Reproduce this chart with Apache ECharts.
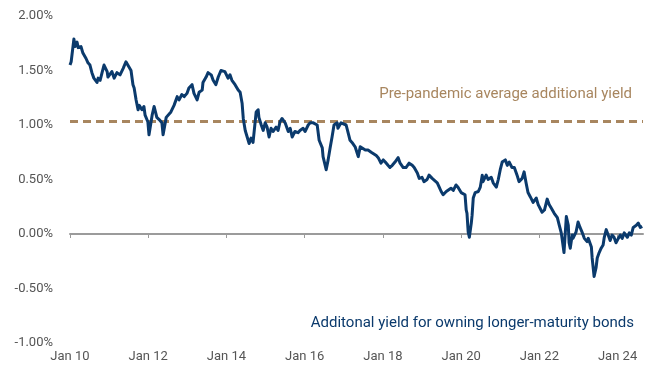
<!DOCTYPE html>
<html><head><meta charset="utf-8">
<script src="https://cdn.jsdelivr.net/npm/echarts@6/dist/echarts.min.js"></script>
<style>html,body{margin:0;padding:0;background:#fff}#c{width:650px;height:369px}</style>
</head><body><div id="c"></div>
<script>
// Decimal year of each observation
const years = [
2010.00,2010.03,2010.10,2010.13,2010.18,2010.21,2010.28,2010.33,2010.41,2010.46,2010.51,2010.56,2010.61,2010.69,2010.72,2010.77,2010.82,2010.87,2010.95,2010.97,
2011.07,2011.13,2011.20,2011.28,2011.36,2011.43,2011.48,2011.56,2011.61,2011.64,2011.69,2011.74,2011.77,2011.84,2011.89,2011.92,2011.99,
2012.02,2012.10,2012.15,2012.22,2012.28,2012.35,2012.38,2012.46,2012.51,2012.58,2012.66,2012.74,2012.79,2012.86,2012.92,2012.99,
2013.04,2013.12,2013.17,2013.25,2013.30,2013.38,2013.40,2013.48,2013.53,2013.61,2013.66,2013.73,2013.79,2013.86,2013.91,2013.96,
2014.04,2014.09,2014.14,2014.22,2014.30,2014.35,2014.40,2014.43,2014.48,2014.53,2014.58,2014.63,2014.68,2014.76,2014.81,2014.83,2014.89,2014.94,2014.99,
2015.04,2015.09,2015.14,2015.19,2015.27,2015.32,2015.37,2015.42,2015.50,2015.58,2015.63,2015.68,2015.75,2015.83,2015.88,2015.96,
2016.01,2016.09,2016.14,2016.22,2016.32,2016.37,2016.45,2016.47,2016.55,2016.60,2016.65,2016.70,2016.75,2016.83,2016.85,2016.93,2016.98,
2017.06,2017.11,2017.16,2017.21,2017.29,2017.37,2017.42,2017.47,2017.55,2017.62,2017.70,2017.75,2017.83,2017.88,2017.95,
2018.01,2018.06,2018.13,2018.18,2018.24,2018.31,2018.39,2018.44,2018.52,2018.59,2018.67,2018.75,2018.80,2018.88,2018.93,
2019.00,2019.05,2019.13,2019.18,2019.26,2019.31,2019.39,2019.44,2019.49,2019.54,2019.62,2019.67,2019.74,2019.80,2019.87,2019.92,
2020.00,2020.05,2020.10,2020.13,2020.15,2020.18,2020.21,2020.26,2020.28,2020.31,2020.36,2020.44,2020.49,2020.54,2020.56,2020.64,2020.69,2020.77,2020.82,2020.90,2020.95,
2021.00,2021.05,2021.13,2021.18,2021.23,2021.30,2021.36,2021.43,2021.48,2021.56,2021.61,2021.66,2021.71,2021.77,2021.82,2021.84,2021.92,2021.97,
2022.02,2022.07,2022.13,2022.20,2022.25,2022.30,2022.38,2022.46,2022.51,2022.56,2022.58,2022.63,2022.69,2022.74,2022.76,2022.79,2022.84,2022.86,2022.94,2022.99,
2023.04,2023.10,2023.15,2023.22,2023.25,2023.33,2023.35,2023.40,2023.45,2023.48,2023.53,2023.58,2023.63,2023.66,2023.71,2023.76,2023.81,2023.86,2023.91,2023.96,
2024.02,2024.07,2024.12,2024.17,2024.25,2024.30,2024.35,2024.40,2024.48,2024.53,2024.58,2024.63
];
// Additional yield (%)
const extraYield = [
1.55,1.58,1.79,1.72,1.76,1.71,1.72,1.66,1.61,1.57,1.55,1.48,1.43,1.39,1.43,1.41,1.48,1.55,1.49,1.44,
1.49,1.43,1.48,1.46,1.52,1.58,1.57,1.50,1.37,1.34,1.23,1.14,1.18,1.14,1.17,1.09,1.03,
0.91,1.09,1.17,1.07,1.05,1.02,0.91,1.07,1.07,1.12,1.18,1.26,1.23,1.28,1.26,1.29,
1.34,1.37,1.29,1.23,1.30,1.32,1.39,1.44,1.48,1.46,1.41,1.37,1.44,1.50,1.49,1.49,
1.43,1.46,1.41,1.37,1.32,1.30,1.20,1.06,0.95,0.89,0.83,0.88,0.84,1.12,1.14,1.07,1.00,0.95,1.02,
0.98,0.89,0.97,0.94,0.98,0.95,1.03,1.06,1.02,0.94,0.97,0.89,0.94,0.93,0.95,0.97,
0.94,1.00,1.02,1.02,1.00,0.86,0.79,0.71,0.59,0.68,0.79,0.89,1.00,1.02,0.97,1.02,1.03,
1.00,0.93,0.86,0.84,0.80,0.71,0.80,0.79,0.77,0.77,0.75,0.75,0.72,0.70,0.65,
0.68,0.66,0.63,0.61,0.63,0.66,0.70,0.65,0.61,0.61,0.65,0.63,0.61,0.56,0.51,
0.52,0.48,0.50,0.54,0.51,0.50,0.47,0.43,0.39,0.36,0.39,0.40,0.42,0.40,0.45,0.43,
0.38,0.38,0.36,0.22,0.19,0.02,-0.03,0.10,0.17,0.33,0.38,0.39,0.43,0.54,0.48,0.54,0.50,0.52,0.47,0.43,0.50,
0.59,0.66,0.68,0.63,0.66,0.61,0.61,0.54,0.48,0.51,0.57,0.47,0.38,0.34,0.33,0.29,0.33,0.27,
0.28,0.20,0.22,0.32,0.27,0.24,0.19,0.15,0.08,0.01,-0.04,-0.17,0.16,0.08,-0.08,-0.13,-0.01,-0.04,0.02,0.11,
0.06,0.01,-0.04,-0.07,-0.04,-0.12,-0.22,-0.39,-0.31,-0.22,-0.17,-0.13,-0.10,-0.03,0.04,-0.01,-0.06,-0.01,-0.03,-0.08,
-0.04,-0.01,-0.04,0.01,-0.03,0.01,-0.01,0.06,0.08,0.10,0.06,0.07
];
const prePandemicAvg = 1.03;
const tickYears = [2010,2012,2014,2016,2018,2020,2022,2024];
const tickLabels = ['Jan 10','Jan 12','Jan 14','Jan 16','Jan 18','Jan 20','Jan 22','Jan 24'];

const navy = '#0b3a6c', brown = '#a8865f', gray = '#9b9b9b', txt = '#555';
const font = 'Roboto, "Noto Sans", sans-serif';
const xRange = {type:'value', min:2010, max:2024.65, splitLine:{show:false}};
const chart = echarts.init(document.getElementById('c'), null, {renderer:'canvas'});
chart.setOption({
  animation:false,
  grid:{left:70,right:7,top:16,bottom:26,containLabel:false,outerBoundsMode:'none'},
  xAxis:[
    Object.assign({}, xRange, {
      position:'bottom',
      axisLine:{show:false,onZero:false}, axisTick:{show:false},
      axisLabel:{customValues:tickYears,margin:7,color:txt,fontSize:13,fontFamily:font,
        formatter:v=>tickLabels[tickYears.indexOf(v)]}
    }),
    Object.assign({}, xRange, {
      position:'top',
      axisLine:{show:true,onZero:true,lineStyle:{color:gray,width:2}},
      axisTick:{show:true,inside:true,customValues:tickYears,length:4,lineStyle:{color:gray,width:1}},
      axisLabel:{show:false}
    })
  ],
  yAxis:{
    type:'value', min:-1, max:2, interval:0.5,
    axisLine:{show:false}, axisTick:{show:false}, splitLine:{show:false},
    axisLabel:{margin:17,color:txt,fontSize:13,fontFamily:font,formatter:v=>v.toFixed(2)+'%'}
  },
  series:[{
    type:'line', data:years.map((t,i)=>[t,extraYield[i]]),
    showSymbol:false, symbol:'none',
    lineStyle:{color:navy,width:3,join:'round'},
    z:3,
    markLine:{silent:true,symbol:'none',label:{show:false},
      lineStyle:{color:brown,width:3,type:[8,5]},
      data:[{yAxis:prePandemicAvg}], z:2}
  }],
  graphic:[
    {type:'text',right:18,top:87,style:{text:'Pre-pandemic average additional yield',fill:brown,font:'15px '+font}},
    {type:'text',right:16,top:316,style:{text:'Additonal yield for owning longer-maturity bonds',fill:navy,font:'15px '+font}}
  ]
});
</script></body></html>
